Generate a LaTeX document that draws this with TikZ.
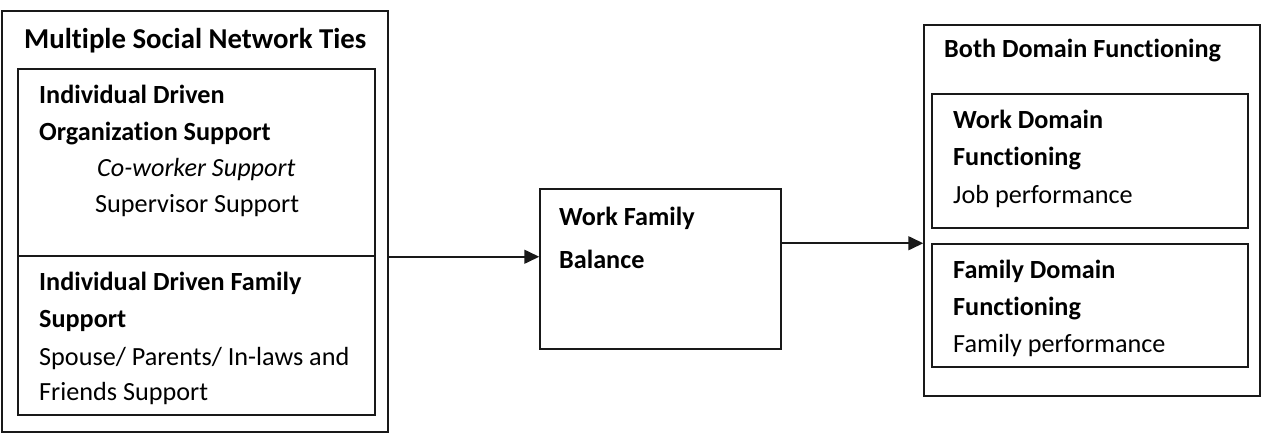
\documentclass[tikz,border=0pt]{standalone}
\usepackage{fontspec}
\setmainfont{Carlito}[Ligatures=NoCommon]
\usetikzlibrary{arrows.meta}
\tikzset{
  box/.style={draw=black!90, line width=1.5pt, inner sep=0pt, fill=none},
  txt/.style={anchor=base west, inner sep=0pt, font=\fontsize{26.2}{31}\selectfont},
  btxt/.style={txt, font=\fontsize{26.2}{31}\selectfont\bfseries},
  conn/.style={line width=1.6pt, draw=black!90, -{Triangle[length=15pt,width=14pt]}}
}
\begin{document}
\begin{tikzpicture}[x=1pt,y=-1pt]
\useasboundingbox (0,0) rectangle (1280,434);
% left group
\node[box, minimum width=386pt, minimum height=421pt] (outerL) at (195,221.5) {};
\node[box, minimum width=357pt, minimum height=187pt] (upper) at (196.5,162.5) {};
\node[box, minimum width=357pt, minimum height=159pt] (lower) at (196.5,335.5) {};
\node[btxt, font=\fontsize{28.8}{34}\selectfont\bfseries] (tL) at (24,48) {Multiple Social Network Ties};
\node[btxt] (u1) at (39,103) {Individual Driven};
\node[btxt] (u2) at (39,140) {Organization Support};
\node[txt, font=\fontsize{26.2}{31}\selectfont\itshape] (u3) at (97,176) {Co-worker Support};
\node[txt] (u4) at (95,212) {Supervisor Support};
\node[btxt] (l1) at (39,290) {Individual Driven Family};
\node[btxt] (l2) at (39,327) {Support};
\node[txt] (l3) at (39,365) {Spouse/ Parents/ In-laws and};
\node[txt] (l4) at (39,400) {Friends Support};
% middle
\node[box, minimum width=241pt, minimum height=160pt] (mid) at (660.5,269) {};
\node[btxt] (m1) at (559,225) {Work Family};
\node[btxt] (m2) at (559,268) {Balance};
% right group
\node[box, minimum width=336pt, minimum height=371pt] (outerR) at (1092,210.5) {};
\node[box, minimum width=316pt, minimum height=134pt] (work) at (1090,161) {};
\node[box, minimum width=316pt, minimum height=123pt] (fam) at (1090,305.5) {};
\node[btxt] (tR) at (944,57) {Both Domain Functioning};
\node[btxt] (w1) at (953,128) {Work Domain};
\node[btxt] (w2) at (953,165) {Functioning};
\node[txt] (w3) at (953,203) {Job performance};
\node[btxt] (f1) at (953,278) {Family Domain};
\node[btxt] (f2) at (953,315) {Functioning};
\node[txt] (f3) at (953,352) {Family performance};
% connectors
\draw[conn] (outerL.east |- upper.south) -- (mid.west |- upper.south);
\draw[conn] (mid.east |- fam.north) -- (outerR.west |- fam.north);
\end{tikzpicture}
\end{document}
